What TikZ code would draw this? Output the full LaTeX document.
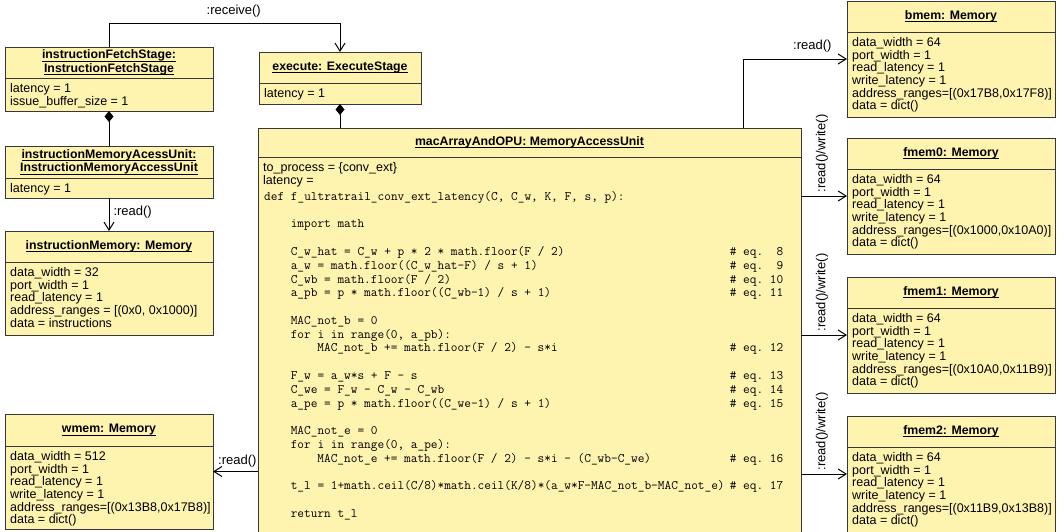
\documentclass[tikz,border=0pt]{standalone}
\usepackage{fontspec}
\setmainfont{Liberation Sans}
\usetikzlibrary{arrows.meta}
\definecolor{objfill}{RGB}{255,243,176}
\definecolor{objdraw}{RGB}{55,55,55}
\newcommand\attrfont{\fontsize{12.5}{12.7}\selectfont}
\newcommand\hdrfont{\fontsize{12.3}{13.4}\selectfont\bfseries}
\newcommand\lblfont{\fontsize{13}{14}\selectfont}
\newcommand\codefont{\fontsize{12.96}{13.78}\selectfont\ttfamily}
\newlength\ulwd
\newcommand\uln[1]{\settowidth\ulwd{#1}\rlap{\rule[-2.8pt]{\ulwd}{0.9pt}}#1}
\tikzset{
  objbox/.style={draw=objdraw, fill=objfill, line width=1pt, inner sep=0pt, outer sep=0pt},
  objline/.style={draw=objdraw, line width=1pt},
  hdr/.style={font=\hdrfont, align=center, inner sep=0pt},
  attr/.style={font=\attrfont, align=left, anchor=north west, inner sep=0pt},
  code/.style={font=\codefont, inner sep=0pt, anchor=base west},
  conn/.style={draw=black, line width=1pt},
  arr/.style={-{Straight Barb[length=8pt,width=10pt]}},
  comp/.style={{Diamond[length=11pt,width=9pt]}-},
  lbl/.style={font=\lblfont, inner sep=0pt},
  vlbl/.style={font=\lblfont, rotate=90, anchor=west, inner sep=3pt},
}
% name, x1, y1, x2, y2, ydiv, header, attributes
\newcommand\umlobj[8]{%
  \node[objbox, anchor=north west, minimum width={#4-#2}, minimum height={#5-#3}] (#1) at (#2,#3) {};
  \draw[objline] (#2,#6) -- (#4,#6);
  \node[hdr] (#1-h) at ({(#2+#4)/2},{(#3+#6)/2}) {#7};
  \node[attr] (#1-a) at ({#2+5},{#6+4.2}) {\rule{0pt}{10pt}#8};
}
\newcommand\codeln[3]{\node[code] (code#2) at ({264+#1*6.652},{200.4+#2*13.78}) {\detokenize{#3}};}
\newcommand\eqc[2]{\node[code] (eq#1) at ({264+70*6.652},{200.4+#1*13.78}) {#2};}
\begin{document}
\begin{tikzpicture}[x=1pt,y=-1pt]
\useasboundingbox (0,0) rectangle (1064,531);
\begin{scope}
\clip (0,0) rectangle (1064,531);
\umlobj{fetch}{5}{47}{213}{111}{78}{\uln{instructionFetchStage:}\\\uln{InstructionFetchStage}}{latency = 1\\issue\_buffer\_size = 1}
\umlobj{exec}{259}{52}{421}{104}{83}{\uln{execute: ExecuteStage}}{latency = 1}
\umlobj{imau}{5}{146}{213}{198}{178}{\uln{instructionMemoryAcessUnit:}\\\uln{InstructionMemoryAccessUnit}}{latency = 1}
\umlobj{imem}{5}{231}{213}{335}{262}{\uln{instructionMemory: Memory}}{data\_width = 32\\port\_width = 1\\read\_latency = 1\\address\_ranges = [(0x0, 0x1000)]\\data = instructions}
\umlobj{wmem}{5}{414}{213}{529}{446}{\uln{wmem: Memory}}{data\_width = 512\\port\_width = 1\\read\_latency = 1\\write\_latency = 1\\address\_ranges=[(0x13B8,0x17B8)]\\data = dict()}
\umlobj{bmem}{847}{1}{1055}{117}{32}{\uln{bmem: Memory}}{data\_width = 64\\port\_width = 1\\read\_latency = 1\\write\_latency = 1\\address\_ranges=[(0x17B8,0x17F8)]\\data = dict()}
\umlobj{fmem0}{847}{138}{1055}{254}{169}{\uln{fmem0: Memory}}{data\_width = 64\\port\_width = 1\\read\_latency = 1\\write\_latency = 1\\address\_ranges=[(0x1000,0x10A0)]\\data = dict()}
\umlobj{fmem1}{847}{277}{1055}{393}{308}{\uln{fmem1: Memory}}{data\_width = 64\\port\_width = 1\\read\_latency = 1\\write\_latency = 1\\address\_ranges=[(0x10A0,0x11B9)]\\data = dict()}
\umlobj{fmem2}{847}{416}{1055}{532}{447}{\uln{fmem2: Memory}}{data\_width = 64\\port\_width = 1\\read\_latency = 1\\write\_latency = 1\\address\_ranges=[(0x11B9,0x13B8)]\\data = dict()}
% central object
\node[objbox, anchor=north west, minimum width=543, minimum height=412] (mac) at (258,128) {};
\draw[objline] (258,157) -- (801,157);
\node[hdr] (mac-h) at (529.5,142.5) {\uln{macArrayAndOPU: MemoryAccessUnit}};
\end{scope}
\node[attr, anchor=base west] (mac-a1) at (263,171.6) {to\_process = \{conv\_ext\}};
\node[attr, anchor=base west] (mac-a2) at (263,184.2) {latency =};
\codeln{0}{0}{def f_ultratrail_conv_ext_latency(C, C_w, K, F, s, p):}
\codeln{4}{2}{import math}
\codeln{4}{4}{C_w_hat = C_w + p * 2 * math.floor(F / 2)}
\codeln{4}{5}{a_w = math.floor((C_w_hat-F) / s + 1)}
\codeln{4}{6}{C_wb = math.floor(F / 2)}
\codeln{4}{7}{a_pb = p * math.floor((C_wb-1) / s + 1)}
\codeln{4}{9}{MAC_not_b = 0}
\codeln{4}{10}{for i in range(0, a_pb):}
\codeln{8}{11}{MAC_not_b += math.floor(F / 2) - s*i}
\codeln{4}{13}{F_w = a_w*s + F - s}
\codeln{4}{14}{C_we = F_w - C_w - C_wb}
\codeln{4}{15}{a_pe = p * math.floor((C_we-1) / s + 1)}
\codeln{4}{17}{MAC_not_e = 0}
\codeln{4}{18}{for i in range(0, a_pe):}
\codeln{8}{19}{MAC_not_e += math.floor(F / 2) - s*i - (C_wb-C_we)}
\codeln{4}{21}{t_l = 1+math.ceil(C/8)*math.ceil(K/8)*(a_w*F-MAC_not_b-MAC_not_e)}
\codeln{4}{23}{return t_l}
\eqc{4}{\#\ eq.\ \ 8}
\eqc{5}{\#\ eq.\ \ 9}
\eqc{6}{\#\ eq.\ 10}
\eqc{7}{\#\ eq.\ 11}
\eqc{11}{\#\ eq.\ 12}
\eqc{13}{\#\ eq.\ 13}
\eqc{14}{\#\ eq.\ 14}
\eqc{15}{\#\ eq.\ 15}
\eqc{19}{\#\ eq.\ 16}
\eqc{21}{\#\ eq.\ 17}
% connectors
\coordinate (macT) at (743,128);
\draw[conn, arr] (fetch.north) -- (fetch.north |- 0,23) -- node[lbl, pos=0.54, anchor=south, yshift=5.3pt] (lrcv) {:receive()} (exec.north |- 0,23) -- (exec.north);
\draw[conn, comp] (fetch.south) -- (imau.north);
\draw[conn, comp] (exec.south) -- (exec.south |- mac.north);
\draw[conn, arr] (imau.south) -- node[lbl, pos=0.415, anchor=west, xshift=4pt] (lread1) {:read()} (imem.north);
\draw[conn, arr] (mac.west |- wmem.east) -- (wmem.east) node[lbl, pos=0, anchor=south east, xshift=-1pt, yshift=3.8pt] (lread2) {:read()};
\draw[conn, arr] (macT) |- (bmem.west) node[lbl, pos=1, anchor=south east, xshift=-15pt, yshift=6pt] (lread3) {:read()};
\draw[conn, arr] (mac.east |- fmem0.west) -- node[vlbl, pos=0.457] (lrw0) {:read()/write()} (fmem0.west);
\draw[conn, arr] (mac.east |- fmem1.west) -- node[vlbl, pos=0.457] (lrw1) {:read()/write()} (fmem1.west);
\draw[conn, arr] (mac.east |- fmem2.west) -- node[vlbl, pos=0.457] (lrw2) {:read()/write()} (fmem2.west);
\end{tikzpicture}
\end{document}
